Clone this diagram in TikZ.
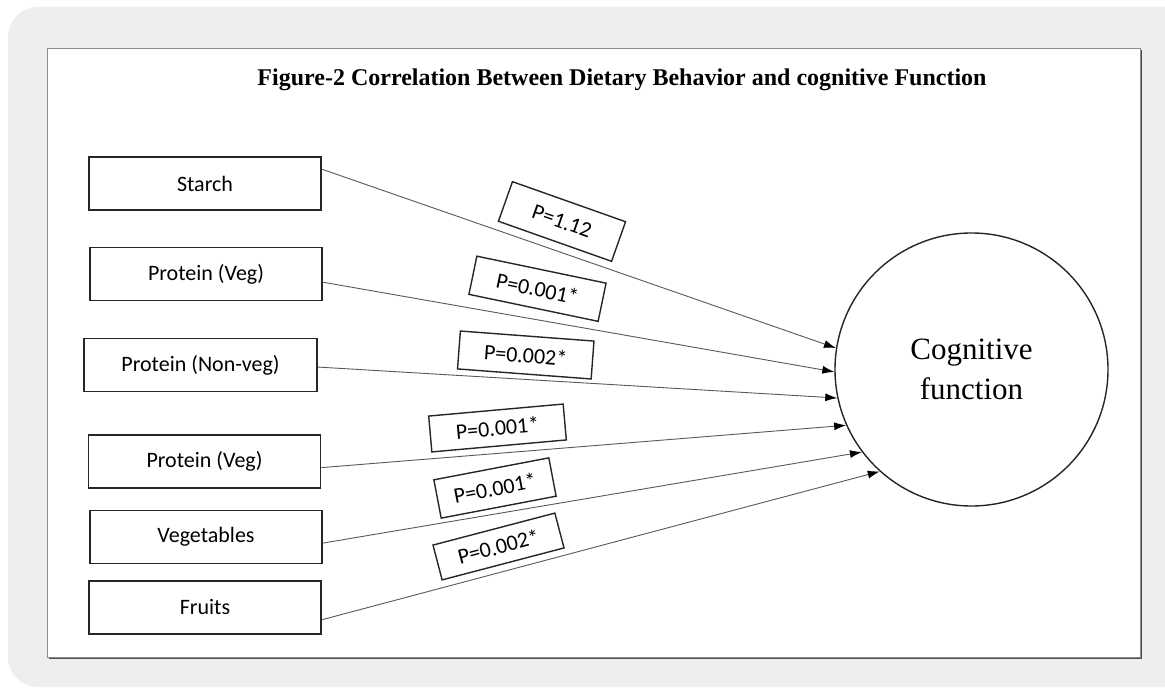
\documentclass[tikz,border=0pt]{standalone}
\usepackage{fontspec}
\setmainfont{Liberation Serif}
\newfontfamily\boxfont{Carlito}
\usetikzlibrary{arrows.meta}

\definecolor{framegray}{HTML}{EEEEEE}

\tikzset{
  foodbox/.style={draw=black!85, fill=white, line width=1.6pt, minimum width=232pt,
    minimum height=53pt, inner sep=0pt, font=\boxfont\fontsize{22}{26}\selectfont},
  pbox/.style={draw=black!85, fill=white, line width=1.4pt, minimum height=38pt,
    inner sep=0pt, font=\boxfont\fontsize{22}{26}\selectfont},
  link/.style={draw=black!65, line width=0.9pt, -{Latex[length=12pt,width=8pt,color=black]}}
}

\begin{document}
\begin{tikzpicture}[x=1pt,y=-1pt]
  % Draw page and frame
  \clip (0,0) rectangle (1165,690);
  \fill[white] (0,0) rectangle (1165,690);
  \fill[framegray, rounded corners=30pt] (8,7) rectangle (1220,687);
  \fill[black!70] (49,50) rectangle (1142,659);
  \draw[draw=black!45, fill=white, line width=0.8pt] (47,48) rectangle (1140,657);
  % Draw title
  \node[font=\bfseries\fontsize{24}{28}\selectfont] (title) at (622,80)
    {Figure-2 Correlation Between Dietary Behavior and cognitive Function};
  % Draw food boxes
  \node[foodbox] (starch) at (205,183.5) {Starch};
  \node[foodbox] (vegA) at (206,274) {Protein (Veg)};
  \node[foodbox, minimum width=233pt] (nonveg) at (200.5,365) {Protein (Non-veg)};
  \node[foodbox] (vegB) at (204.5,461.5) {Protein (Veg)};
  \node[foodbox] (vegetables) at (206,537) {Vegetables};
  \node[foodbox] (fruits) at (205,607.5) {Fruits};
  % Draw outcome circle
  \node[draw=black!85, circle, line width=1.4pt, minimum size=273pt, inner sep=0pt,
    align=center, font=\fontsize{31}{40}\selectfont] (cog) at (971.5,369.5)
    {Cognitive\\function};
  % Draw links
  \draw[link] (starch.7) -- (cog.171);
  \draw[link] (vegA.-4) -- (cog.181);
  \draw[link] (nonveg.-1) -- (cog.192);
  \draw[link] (vegB.-3) -- (cog.204);
  \draw[link] (vegetables.-3) -- (cog.217);
  \draw[link] (fruits.-6) -- (cog.228);
  % Draw p-values
  \node[pbox, minimum width=120pt, minimum height=42pt, rotate=-19.5] (pstarch) at (562,221.5) {P=1.12};
  \node[pbox, minimum width=132pt, minimum height=39pt, rotate=-11.8] (pvegA) at (537.5,288.75) {P=0.001*};
  \node[pbox, minimum width=134pt, rotate=-4.3] (pnonveg) at (525.75,355) {P=0.002*};
  \node[pbox, minimum width=135pt, minimum height=36pt, rotate=5.1] (pvegB) at (497.5,428) {P=0.001*};
  \node[pbox, minimum width=117pt, minimum height=39pt, rotate=10.8] (pvegetables) at (495,488) {P=0.001*};
  \node[pbox, minimum width=126pt, minimum height=36pt, rotate=14.7] (pfruits) at (498.5,546.5) {P=0.002*};
\end{tikzpicture}
\end{document}
